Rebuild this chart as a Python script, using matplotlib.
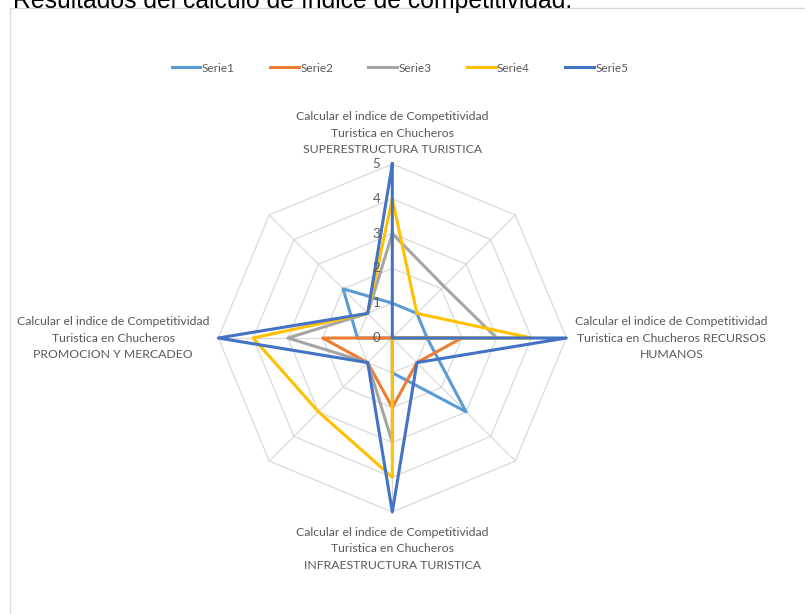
import numpy as np
import matplotlib
matplotlib.use("Agg")
import matplotlib.pyplot as plt
from matplotlib.patches import Rectangle

# ---------------- data ----------------
categories = [
    "Calcular el indice de Competitividad\nTuristica en Chucheros\nSUPERESTRUCTURA TURISTICA",
    "",
    "Calcular el indice de Competitividad\nTuristica en Chucheros RECURSOS\nHUMANOS",
    "",
    "Calcular el indice de Competitividad\nTuristica en Chucheros\nINFRAESTRUCTURA TURISTICA",
    "",
    "Calcular el indice de Competitividad\nTuristica en Chucheros\nPROMOCION Y MERCADEO",
    "",
]
series_names = ["Serie1", "Serie2", "Serie3", "Serie4", "Serie5"]
serie1 = [1, 1, 1, 3, 1, 0, 1, 2]
serie2 = [0, 0, 2, 1, 2, 1, 2, 0]
serie3 = [3, 2.1, 3, 0, 3, 1, 3, 1]
serie4 = [4, 1, 4, 0, 4, 3, 4, 1]
serie5 = [5, 0, 5, 1, 5, 1, 5, 1]
r_ticks = [0, 1, 2, 3, 4, 5]
title_text = "Resultados del cálculo de índice de competitividad."

# ---------------- style ----------------
colors = ["#5B9BD5", "#ED7D31", "#A5A5A5", "#FFC000", "#4472C4"]
grid_color = "#D9D9D9"
text_color = "#595959"
label_font = "Lato"

W, H = 805, 614
fig = plt.figure(figsize=(W / 100, H / 100), dpi=100)

cx, cy, R = 392.3, 338.0, 174.0
ax = fig.add_axes([(cx - R) / W, (H - cy - R) / H, 2 * R / W, 2 * R / H],
                  projection="polar")
ax.set_theta_zero_location("N")
ax.set_theta_direction(-1)
ax.set_ylim(0, max(r_ticks))
ax.grid(False)
ax.spines["polar"].set_visible(False)
ax.set_xticks([])
ax.set_yticks([])
ax.patch.set_alpha(0)

n = len(categories)
theta = np.arange(n) * 2 * np.pi / n
closed = np.append(theta, theta[0])

# octagonal grid
for lvl in r_ticks[1:]:
    ax.plot(closed, [lvl] * (n + 1), color=grid_color, lw=0.9, zorder=1, clip_on=False)
for t in theta:
    ax.plot([t, t], [0, max(r_ticks)], color=grid_color, lw=0.9, zorder=1, clip_on=False)

# series
handles = []
for name, vals, col in zip(series_names, [serie1, serie2, serie3, serie4, serie5], colors):
    h, = ax.plot(closed, list(vals) + [vals[0]], color=col, lw=2.2, zorder=3,
                 clip_on=False, solid_joinstyle="round", label=name)
    handles.append(h)

# radial tick labels
for r in r_ticks:
    ax.annotate(str(r), xy=(0, r), xytext=(-12, 0), textcoords="offset pixels",
                ha="right", va="center", fontsize=9.5, color=text_color,
                family=label_font, zorder=4)

# category labels
for t, lab in zip(theta, categories):
    if not lab:
        continue
    dx, dy = np.sin(t), np.cos(t)
    ha = "center" if abs(dx) < 0.1 else ("left" if dx > 0 else "right")
    va = "center" if abs(dy) < 0.1 else ("bottom" if dy > 0 else "top")
    gap = 15 if dy < -0.5 else 9
    ax.annotate(lab, xy=(t, max(r_ticks)), xytext=(dx * gap, dy * gap),
                textcoords="offset pixels", ha=ha, va=va, multialignment="center",
                fontsize=8.8, color=text_color, family=label_font, linespacing=1.6,
                annotation_clip=False)

# legend
fig.legend(handles=handles, labels=series_names, loc="center",
           bbox_to_anchor=(400 / W, 1 - 68 / H), ncol=5, frameon=False,
           handlelength=2.45, handletextpad=0.1, columnspacing=3.0,
           prop={"family": label_font, "size": 8.5}, labelcolor=text_color)

# chart border (partially visible)
fig.add_artist(Rectangle((10 / W, -0.05), 1.0, 1 - 8 / H + 0.05,
                         transform=fig.transFigure, fill=False,
                         ec=grid_color, lw=1))

# cut-off title at the very top
fig.text(13 / W, 1 - 8 / H, title_text, fontsize=17.8, family="Liberation Sans",
         va="baseline", ha="left", color="black")

fig.savefig("out.png", dpi=100)
